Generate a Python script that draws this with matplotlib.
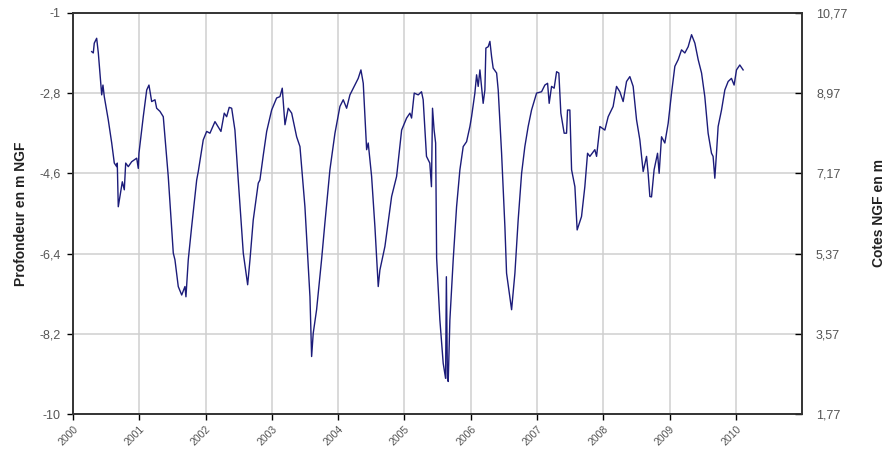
import numpy as np
import matplotlib
matplotlib.use("Agg")
import matplotlib.pyplot as plt

plt.rcParams['font.family'] = ['Liberation Sans', 'DejaVu Sans']

# dates en annees decimales et profondeur (m NGF)
annees = [
    2000.282, 2000.306, 2000.321, 2000.357, 2000.382, 2000.407, 2000.433, 2000.452, 2000.472,
    2000.532, 2000.584, 2000.623, 2000.659, 2000.668, 2000.683, 2000.724, 2000.744, 2000.774,
    2000.795, 2000.834, 2000.885, 2000.961, 2000.985, 2000.995,
    2001.060, 2001.112, 2001.146, 2001.187, 2001.237, 2001.262, 2001.312, 2001.362, 2001.437,
    2001.513, 2001.538, 2001.588, 2001.640, 2001.689, 2001.704, 2001.739, 2001.790, 2001.866,
    2001.890, 2001.965,
    2002.017, 2002.066, 2002.142, 2002.232, 2002.282, 2002.318, 2002.357, 2002.394, 2002.443,
    2002.493, 2002.569, 2002.635, 2002.670, 2002.719, 2002.795, 2002.820, 2002.870, 2002.922,
    2002.997,
    2003.072, 2003.122, 2003.157, 2003.198, 2003.247, 2003.299, 2003.374, 2003.424, 2003.499,
    2003.575, 2003.600, 2003.624, 2003.675, 2003.750, 2003.800, 2003.876, 2003.952,
    2004.027, 2004.077, 2004.128, 2004.178, 2004.253, 2004.303, 2004.344, 2004.379, 2004.430,
    2004.454, 2004.505, 2004.555, 2004.605, 2004.630, 2004.706, 2004.807, 2004.882, 2004.958,
    2005.033, 2005.083, 2005.108, 2005.148, 2005.208, 2005.258, 2005.283, 2005.333, 2005.383,
    2005.408, 2005.424, 2005.448, 2005.471, 2005.486, 2005.535, 2005.585, 2005.621, 2005.633,
    2005.649, 2005.661, 2005.686, 2005.736, 2005.787, 2005.837, 2005.887, 2005.938, 2005.988,
    2006.013, 2006.063, 2006.089, 2006.113, 2006.139, 2006.164, 2006.188, 2006.214, 2006.229,
    2006.264, 2006.290, 2006.315, 2006.339, 2006.391, 2006.415, 2006.466, 2006.516, 2006.541,
    2006.591, 2006.617, 2006.667, 2006.716, 2006.768, 2006.817, 2006.867, 2006.918, 2006.994,
    2007.069, 2007.119, 2007.160, 2007.184, 2007.220, 2007.259, 2007.296, 2007.330, 2007.360,
    2007.410, 2007.446, 2007.461, 2007.496, 2007.522, 2007.572, 2007.606, 2007.672, 2007.722,
    2007.763, 2007.798, 2007.873, 2007.899, 2007.949,
    2008.024, 2008.074, 2008.149, 2008.200, 2008.250, 2008.300, 2008.351, 2008.401, 2008.451,
    2008.502, 2008.552, 2008.602, 2008.653, 2008.677, 2008.703, 2008.728, 2008.767, 2008.819,
    2008.843, 2008.879, 2008.929, 2008.979,
    2009.030, 2009.080, 2009.130, 2009.181, 2009.231, 2009.281, 2009.332, 2009.382, 2009.432,
    2009.483, 2009.532, 2009.582, 2009.633, 2009.657, 2009.683, 2009.708, 2009.733, 2009.784,
    2009.834, 2009.884, 2009.934, 2009.974,
    2010.010, 2010.060, 2010.110,
]
profondeur = [
    -1.87, -1.90, -1.68, -1.57, -1.90, -2.35, -2.84, -2.62, -2.88,
    -3.40, -3.92, -4.37, -4.45, -4.37, -5.35, -4.97, -4.79, -4.97,
    -4.37, -4.45, -4.34, -4.26, -4.49, -4.15,
    -3.33, -2.73, -2.62, -2.99, -2.95, -3.14, -3.21, -3.33, -4.67,
    -6.39, -6.54, -7.14, -7.33, -7.14, -7.37, -6.54, -5.80, -4.75,
    -4.56, -3.85,
    -3.66, -3.70, -3.44, -3.66, -3.25, -3.33, -3.12, -3.14, -3.63,
    -4.75, -6.39, -7.10, -6.54, -5.65, -4.82, -4.75, -4.20, -3.66,
    -3.18,
    -2.91, -2.88, -2.69, -3.51, -3.14, -3.25, -3.78, -4.00, -5.35,
    -7.37, -8.71, -8.19, -7.66, -6.54, -5.72, -4.52, -3.70,
    -3.10, -2.95, -3.14, -2.84, -2.62, -2.47, -2.28, -2.58, -4.07,
    -3.92, -4.67, -5.80, -7.14, -6.77, -6.24, -5.12, -4.67, -3.63,
    -3.36, -3.25, -3.36, -2.80, -2.84, -2.77, -2.95, -4.22, -4.37,
    -4.90, -3.14, -3.63, -3.92, -6.50, -7.89, -8.86, -9.20, -6.92,
    -9.20, -9.27, -7.89, -6.54, -5.35, -4.52, -4.00, -3.89, -3.55,
    -3.33, -2.80, -2.39, -2.65, -2.28, -2.65, -3.03, -2.73, -1.79,
    -1.76, -1.64, -1.98, -2.24, -2.35, -2.73, -4.15, -5.80, -6.84,
    -7.37, -7.66, -6.84, -5.65, -4.60, -4.00, -3.55, -3.18, -2.80,
    -2.77, -2.62, -2.58, -3.03, -2.65, -2.69, -2.32, -2.35, -3.25,
    -3.70, -3.70, -3.18, -3.18, -4.52, -4.90, -5.87, -5.57, -4.90,
    -4.15, -4.22, -4.07, -4.22, -3.55,
    -3.63, -3.33, -3.10, -2.65, -2.77, -2.99, -2.54, -2.43, -2.65,
    -3.40, -3.85, -4.56, -4.22, -4.60, -5.12, -5.13, -4.52, -4.15,
    -4.60, -3.78, -3.92, -3.48,
    -2.80, -2.20, -2.05, -1.83, -1.90, -1.76, -1.49, -1.68, -2.05,
    -2.35, -2.88, -3.70, -4.15, -4.22, -4.71, -4.15, -3.55, -3.18,
    -2.73, -2.54, -2.47, -2.62,
    -2.28, -2.17, -2.28,
]

x_ticks = list(range(2000, 2011))
y_ticks = [-10, -8.2, -6.4, -4.6, -2.8, -1]
y_labels = ['-10', '-8,2', '-6,4', '-4,6', '-2,8', '-1']
cote_ticks = [1.77, 3.57, 5.37, 7.17, 8.97, 10.77]
cote_labels = ['1,77', '3,57', '5,37', '7,17', '8,97', '10,77']

tick_color = '#555555'

fig = plt.figure(figsize=(8.87, 4.59), dpi=100)
ax = fig.add_axes([0.0823, 0.098, 0.822, 0.874])

ax.plot(annees, profondeur, color='#1c1c7a', linewidth=1.0)

ax.set_xlim(2000, 2011)
ax.set_ylim(-10, -1)
ax.set_xticks(x_ticks)
ax.set_xticklabels([str(a) for a in x_ticks], rotation=45, ha='right',
                   rotation_mode='anchor', fontsize=7.5, color=tick_color)
ax.set_yticks(y_ticks)
ax.set_yticklabels(y_labels, fontsize=9, color=tick_color)
ax.grid(True, color='#cfcfcf', linewidth=1.1)
ax.set_axisbelow(True)
ax.tick_params(axis='x', direction='out', length=4, width=1, pad=3)
ax.tick_params(axis='y', direction='out', length=4, width=1, pad=5)
for s in ax.spines.values():
    s.set_color('#333333')
    s.set_linewidth(1.2)
ax.set_ylabel('Profondeur en m NGF', fontsize=10, fontweight='bold', color='#222222', labelpad=8)

ax2 = ax.twinx()
ax2.set_ylim(1.77, 10.77)
ax2.set_yticks(cote_ticks)
ax2.set_yticklabels(cote_labels, fontsize=9, color=tick_color)
ax2.tick_params(axis='y', direction='in', length=5, width=1, pad=10)
for s in ax2.spines.values():
    s.set_color('#333333')
    s.set_linewidth(1.2)
ax2.set_ylabel('Cotes NGF en m', fontsize=10, fontweight='bold', color='#222222', labelpad=18)

fig.savefig('out.png', dpi=100)
